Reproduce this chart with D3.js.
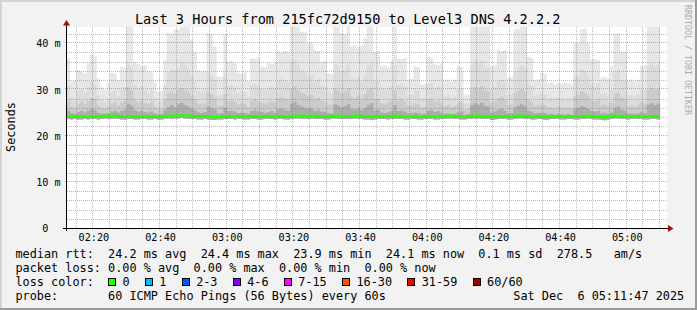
<!DOCTYPE html>
<html>
<head>
<meta charset="utf-8">
<script src="https://cdn.jsdelivr.net/npm/d3@7"></script>
<style>
  html, body { margin: 0; padding: 0; background: #f2f2f2; }
  svg { display: block; }
  text { font-family: "DejaVu Sans Mono", monospace; white-space: pre; }
</style>
</head>
<body>
<div id="chart"></div>
<script>
// one sample per minute, first sample 02:12 (ms round trip)
const rttMax = [
  36.8, 31.7, 31.9, 34.2, 34.0, 33.5, 35.7, 37.5, 37.3, 32.4,
  30.5, 29.9, 31.4, 33.6, 33.4, 32.0, 34.9, 34.7, 44.5, 44.5,
  36.0, 35.5, 35.0, 35.2, 33.9, 33.7, 31.4, 29.5, 29.7, 36.4,
  42.2, 42.0, 42.9, 43.0, 44.5, 44.5, 44.5, 40.7, 38.0, 34.2,
  33.9, 34.1, 42.2, 42.0, 39.3, 32.8, 32.6, 42.0, 36.0, 36.2,
  35.7, 33.6, 33.4, 33.7, 31.8, 36.8, 36.6, 36.9, 35.0, 34.8,
  35.7, 35.5, 35.8, 38.2, 38.0, 38.3, 38.1, 44.5, 44.5, 44.5,
  42.5, 42.3, 40.0, 40.2, 38.5, 38.3, 36.0, 36.2, 33.5, 33.3,
  44.5, 44.5, 42.2, 42.0, 44.5, 39.3, 39.5, 39.1, 39.4, 41.0,
  44.5, 44.5, 38.1, 38.3, 35.0, 35.2, 34.8, 36.0, 44.5, 36.7,
  36.5, 36.8, 32.1, 32.3, 35.0, 34.8, 31.0, 31.2, 37.0, 36.8,
  35.5, 35.3, 35.6, 32.0, 32.2, 31.8, 32.1, 35.0, 34.8, 28.7,
  28.9, 44.5, 44.5, 44.5, 44.5, 44.5, 44.5, 35.0, 35.2, 38.5,
  38.3, 38.6, 32.5, 32.7, 43.0, 43.2, 44.5, 44.5, 37.0, 36.8,
  32.0, 32.2, 33.6, 33.4, 31.3, 31.5, 31.1, 31.4, 31.2, 31.5,
  31.3, 31.1, 40.0, 40.2, 43.0, 43.2, 40.0, 36.5, 36.7, 36.3,
  32.5, 32.7, 32.3, 35.0, 42.0, 42.2, 38.0, 38.2, 32.0, 32.2,
  31.8, 32.1, 35.0, 35.2, 44.5, 44.5, 44.5, 44.5
];
const rttP90 = [
  31.0, 28.4, 28.0, 29.6, 30.1, 29.2, 30.5, 31.6, 31.0, 28.7,
  27.8, 27.2, 28.1, 29.4, 29.8, 28.5, 29.9, 30.4, 35.6, 34.8,
  30.9, 30.2, 30.6, 29.8, 29.3, 29.9, 28.1, 27.2, 27.5, 30.8,
  33.5, 34.2, 33.9, 34.6, 35.8, 35.2, 34.5, 33.1, 31.6, 29.7,
  29.5, 29.9, 33.8, 33.2, 32.1, 28.7, 28.9, 33.6, 30.6, 30.9,
  30.4, 29.2, 29.6, 29.4, 28.3, 30.9, 31.2, 30.7, 30.1, 29.8,
  30.3, 30.6, 30.2, 31.9, 32.3, 31.7, 31.5, 35.9, 36.4, 35.2,
  34.1, 33.7, 32.6, 33.0, 31.8, 32.2, 30.9, 30.5, 29.4, 29.1,
  35.4, 35.0, 33.8, 34.3, 35.6, 32.4, 32.0, 32.6, 31.9, 33.1,
  35.3, 35.8, 31.7, 31.9, 30.1, 29.8, 30.3, 30.7, 35.1, 30.9,
  31.2, 30.6, 28.6, 28.9, 30.0, 29.7, 28.0, 28.2, 31.0, 31.4,
  30.2, 30.6, 30.0, 28.5, 28.9, 28.2, 28.6, 29.9, 30.3, 26.9,
  27.1, 35.2, 35.9, 35.4, 36.1, 35.0, 34.6, 30.1, 30.4, 31.8,
  32.1, 31.5, 28.8, 29.1, 33.9, 34.6, 35.3, 34.8, 31.2, 30.7,
  28.6, 28.9, 29.3, 29.0, 28.0, 28.3, 27.9, 28.4, 28.1, 27.8,
  28.2, 27.9, 32.6, 33.1, 34.4, 34.0, 32.9, 31.1, 30.8, 31.3,
  28.9, 29.2, 28.6, 30.0, 33.8, 34.1, 32.2, 31.7, 28.5, 28.8,
  28.4, 28.9, 30.2, 29.8, 35.1, 35.6, 34.9, 35.4
];
const rttP75 = [
  27.6, 26.4, 26.1, 26.9, 27.3, 26.8, 27.5, 28.2, 27.9, 26.5,
  26.0, 25.8, 26.3, 26.9, 27.2, 26.6, 27.1, 27.6, 30.4, 29.8,
  27.8, 27.2, 27.6, 27.1, 26.9, 27.3, 26.2, 25.7, 25.9, 27.9,
  29.2, 29.6, 29.1, 29.9, 30.3, 29.8, 29.4, 28.6, 27.9, 26.9,
  26.8, 27.1, 29.3, 28.9, 28.2, 26.4, 26.6, 29.0, 27.5, 27.7,
  27.3, 26.8, 27.0, 26.9, 26.2, 27.6, 27.9, 27.4, 27.1, 26.9,
  27.2, 27.5, 27.1, 28.1, 28.4, 27.9, 27.8, 30.2, 30.8, 29.9,
  29.4, 29.0, 28.5, 28.8, 27.9, 28.3, 27.6, 27.3, 26.8, 26.6,
  30.1, 29.7, 29.1, 29.5, 30.2, 28.4, 28.1, 28.6, 28.0, 28.9,
  30.0, 30.4, 27.9, 28.1, 27.0, 26.8, 27.2, 27.5, 29.8, 27.6,
  27.9, 27.4, 26.5, 26.7, 27.0, 26.8, 26.0, 26.2, 27.7, 28.0,
  27.2, 27.5, 27.0, 26.3, 26.6, 26.1, 26.4, 27.0, 27.3, 25.6,
  25.8, 29.9, 30.5, 30.1, 30.7, 29.8, 29.5, 27.1, 27.4, 28.2,
  28.5, 27.9, 26.6, 26.8, 29.2, 29.7, 30.1, 29.6, 27.8, 27.4,
  26.4, 26.6, 26.9, 26.7, 26.0, 26.2, 25.9, 26.3, 26.1, 25.9,
  26.2, 25.9, 28.5, 28.9, 29.6, 29.3, 28.7, 27.6, 27.4, 27.8,
  26.6, 26.9, 26.4, 27.1, 29.1, 29.4, 28.2, 27.9, 26.3, 26.5,
  26.2, 26.6, 27.2, 26.9, 30.0, 30.4, 29.8, 30.2
];
const rttP60 = [
  25.4, 24.9, 24.8, 25.1, 25.3, 25.0, 25.4, 25.8, 25.6, 24.9,
  24.8, 24.7, 24.9, 25.2, 25.4, 25.0, 25.3, 25.6, 26.9, 26.5,
  25.5, 25.2, 25.4, 25.1, 25.0, 25.2, 24.8, 24.6, 24.7, 25.6,
  26.2, 26.6, 26.1, 26.8, 27.1, 26.7, 26.3, 25.9, 25.5, 25.0,
  24.9, 25.1, 26.3, 26.0, 25.7, 24.8, 24.9, 26.1, 25.3, 25.4,
  25.2, 24.9, 25.0, 24.9, 24.7, 25.3, 25.6, 25.2, 25.1, 24.9,
  25.1, 25.3, 25.0, 25.7, 25.9, 25.5, 25.4, 26.9, 27.3, 26.6,
  26.3, 26.0, 25.8, 25.9, 25.4, 25.6, 25.2, 25.1, 24.9, 24.8,
  26.8, 26.5, 26.1, 26.4, 26.9, 25.8, 25.6, 25.9, 25.5, 26.0,
  26.7, 27.0, 25.5, 25.6, 25.0, 24.9, 25.1, 25.3, 26.6, 25.3,
  25.5, 25.2, 24.8, 24.9, 25.0, 24.9, 24.6, 24.7, 25.4, 25.6,
  25.1, 25.3, 25.0, 24.7, 24.8, 24.6, 24.8, 25.0, 25.2, 24.5,
  24.6, 26.6, 27.0, 26.7, 27.1, 26.5, 26.3, 25.0, 25.2, 25.6,
  25.8, 25.4, 24.8, 24.9, 26.2, 26.5, 26.8, 26.4, 25.4, 25.2,
  24.8, 24.9, 25.0, 24.9, 24.6, 24.7, 24.5, 24.7, 24.6, 24.5,
  24.7, 24.5, 25.8, 26.0, 26.4, 26.2, 25.8, 25.3, 25.2, 25.4,
  24.8, 24.9, 24.7, 25.0, 26.1, 26.3, 25.6, 25.4, 24.7, 24.8,
  24.6, 24.8, 25.1, 24.9, 26.7, 27.0, 26.6, 26.9
];
const rttMedian = [
  24.2, 24.2, 24.2, 24.1, 24.2, 24.2, 24.1, 24.2, 24.2, 24.1,
  24.2, 24.3, 24.3, 24.3, 24.3, 24.2, 24.2, 24.1, 24.2, 24.2,
  24.1, 24.1, 24.2, 24.2, 24.1, 24.1, 24.2, 24.1, 24.1, 24.2,
  24.3, 24.3, 24.3, 24.4, 24.4, 24.3, 24.3, 24.2, 24.2, 24.2,
  24.1, 24.2, 24.2, 24.0, 23.9, 24.1, 24.1, 24.2, 24.2, 24.2,
  24.1, 24.2, 24.2, 24.1, 24.1, 24.2, 24.2, 24.1, 24.1, 24.2,
  24.2, 24.2, 24.1, 24.2, 24.2, 24.1, 24.1, 24.2, 24.3, 24.3,
  24.3, 24.2, 24.2, 24.3, 24.3, 24.2, 24.2, 24.1, 24.1, 24.2,
  24.3, 24.3, 24.2, 24.2, 24.2, 24.2, 24.3, 24.3, 24.2, 24.1,
  24.1, 24.0, 24.1, 24.2, 24.2, 24.2, 24.1, 24.2, 24.3, 24.2,
  24.2, 24.1, 24.1, 24.2, 24.2, 24.1, 24.1, 24.2, 24.2, 24.2,
  24.1, 24.1, 24.2, 24.2, 24.3, 24.3, 24.2, 24.2, 24.1, 24.1,
  24.2, 24.2, 24.3, 24.3, 24.2, 24.2, 24.2, 24.0, 24.1, 24.2,
  24.2, 24.2, 24.1, 24.1, 24.2, 24.3, 24.3, 24.2, 24.2, 24.1,
  24.1, 24.2, 24.2, 24.0, 24.1, 24.2, 24.2, 24.2, 24.1, 24.1,
  24.2, 24.2, 24.1, 24.1, 24.2, 24.2, 24.3, 24.2, 24.1, 24.1,
  24.0, 23.9, 24.1, 24.2, 24.3, 24.3, 24.2, 24.2, 24.1, 24.2,
  24.2, 24.2, 24.2, 24.1, 24.1, 24.2, 24.2, 24.1
];
const rttMin = [
  23.6, 23.5, 23.6, 23.5, 23.5, 23.6, 23.5, 23.6, 23.6, 23.5,
  23.6, 23.7, 23.6, 23.6, 23.7, 23.6, 23.5, 23.5, 23.6, 23.6,
  23.5, 23.5, 23.6, 23.6, 23.5, 23.5, 23.6, 23.5, 23.5, 23.6,
  23.7, 23.6, 23.7, 23.7, 23.8, 23.7, 23.6, 23.6, 23.6, 23.5,
  23.5, 23.6, 23.5, 23.4, 23.4, 23.5, 23.5, 23.6, 23.6, 23.6,
  23.5, 23.6, 23.6, 23.5, 23.5, 23.6, 23.6, 23.5, 23.5, 23.6,
  23.6, 23.6, 23.5, 23.6, 23.6, 23.5, 23.5, 23.6, 23.7, 23.7,
  23.6, 23.6, 23.6, 23.7, 23.6, 23.6, 23.6, 23.5, 23.5, 23.6,
  23.7, 23.6, 23.6, 23.6, 23.6, 23.6, 23.7, 23.6, 23.6, 23.5,
  23.5, 23.4, 23.5, 23.6, 23.6, 23.6, 23.5, 23.6, 23.6, 23.6,
  23.6, 23.5, 23.5, 23.6, 23.6, 23.5, 23.5, 23.6, 23.6, 23.6,
  23.5, 23.5, 23.6, 23.6, 23.7, 23.7, 23.6, 23.6, 23.5, 23.5,
  23.6, 23.6, 23.7, 23.7, 23.6, 23.6, 23.6, 23.4, 23.5, 23.6,
  23.6, 23.6, 23.5, 23.5, 23.6, 23.7, 23.7, 23.6, 23.6, 23.5,
  23.5, 23.6, 23.6, 23.4, 23.5, 23.6, 23.6, 23.6, 23.5, 23.5,
  23.6, 23.6, 23.5, 23.5, 23.6, 23.6, 23.7, 23.6, 23.5, 23.5,
  23.4, 23.3, 23.5, 23.6, 23.7, 23.7, 23.6, 23.6, 23.5, 23.6,
  23.6, 23.6, 23.6, 23.5, 23.5, 23.6, 23.6, 23.5
];

const yTicks = [0, 10, 20, 30, 40];
const lossLabels = ["0", "1", "2-3", "4-6", "7-15", "16-30", "31-59", "60/60"];
const lossColors = ["#26ff00", "#00b8ff", "#0059ff", "#7e00ff", "#ff00ff", "#ff5500", "#ff0000", "#a00000"];
const titleText = "Last 3 Hours from 215fc72d9150 to Level3 DNS 4.2.2.2";
const legendLines = [
  "median rtt:  24.2 ms avg  24.4 ms max  23.9 ms min  24.1 ms now  0.1 ms sd  278.5   am/s",
  "packet loss: 0.00 % avg  0.00 % max  0.00 % min  0.00 % now",
  "loss color:",
  "probe:       60 ICMP Echo Pings (56 Bytes) every 60s"
];
const stampText = "Sat Dec  6 05:11:47 2025";

const width = 697;
const height = 310;
const plot = { left: 67, top: 27, right: 667, bottom: 228 };
const minute = 60 * 1000;
const firstSample = new Date(2025, 11, 6, 2, 12, 0);
const viewStart = new Date(2025, 11, 6, 2, 12, 5);
const viewEnd = new Date(viewStart.getTime() + 180 * minute);
const charW = 7.12;

const svg = d3
  .select("#chart")
  .append("svg")
  .attr("width", width)
  .attr("height", height);

// background + 3d frame
svg.append("rect").attr("width", width).attr("height", height).attr("fill", "#f2f2f2");
svg.append("rect").attr("x", 0).attr("y", 0).attr("width", width).attr("height", 2).attr("fill", "#d4d4d4");
svg.append("rect").attr("x", 0).attr("y", 0).attr("width", 2).attr("height", height).attr("fill", "#d4d4d4");
svg.append("rect").attr("x", 0).attr("y", height - 2).attr("width", width).attr("height", 2).attr("fill", "#9a9a9a");
svg.append("rect").attr("x", width - 2).attr("y", 0).attr("width", 2).attr("height", height).attr("fill", "#9a9a9a");

const x = d3.scaleTime().domain([viewStart, viewEnd]).range([plot.left, plot.right]);
const y = d3.scaleLinear().domain([0, 43.5]).range([plot.bottom, plot.top]);

svg
  .append("rect")
  .attr("x", plot.left)
  .attr("y", plot.top)
  .attr("width", plot.right - plot.left)
  .attr("height", plot.bottom - plot.top)
  .attr("fill", "#ffffff");

svg
  .append("clipPath")
  .attr("id", "plot-clip")
  .append("rect")
  .attr("x", plot.left)
  .attr("y", plot.top)
  .attr("width", plot.right - plot.left)
  .attr("height", plot.bottom - plot.top);

const sampleTime = (i) => new Date(firstSample.getTime() + i * minute);

// step series, last sample repeated so the final minute gets its width
const stepData = (values) =>
  values.map((v, i) => ({ t: sampleTime(i), v, lo: rttMin[i] }))
    .concat([{ t: sampleTime(values.length), v: values[values.length - 1], lo: rttMin[rttMin.length - 1] }]);

const smoke = svg.append("g").attr("clip-path", "url(#plot-clip)");

const bands = [
  { values: rttMax, color: "#e7e7e7" },
  { values: rttP90, color: "#dcdcdc" },
  { values: rttP75, color: "#cbcbcb" },
  { values: rttP60, color: "#acacac" }
];

const area = d3
  .area()
  .curve(d3.curveStepAfter)
  .x((d) => x(d.t))
  .y0((d) => y(d.lo))
  .y1((d) => y(d.v));

bands.forEach((band) => {
  smoke
    .append("path")
    .datum(stepData(band.values))
    .attr("fill", band.color)
    .attr("d", area);
});

// grid
const grid = svg.append("g").attr("shape-rendering", "crispEdges");
const minorTimes = d3.timeMinute.every(5).range(viewStart, viewEnd)
  .filter((t) => t.getMinutes() % 20 !== 0);
const majorTimes = d3.timeMinute.every(20).range(viewStart, viewEnd);
const minorVals = d3.range(2, 43.5, 2).filter((v) => v % 10 !== 0);
const majorVals = yTicks.filter((v) => v > 0);

grid.selectAll(".vminor").data(minorTimes).join("line")
  .attr("x1", (d) => Math.round(x(d)) - 0.5).attr("x2", (d) => Math.round(x(d)) - 0.5)
  .attr("y1", plot.top).attr("y2", plot.bottom)
  .attr("stroke", "rgba(130,130,130,0.55)").attr("stroke-dasharray", "1,1");
grid.selectAll(".hminor").data(minorVals).join("line")
  .attr("x1", plot.left).attr("x2", plot.right)
  .attr("y1", (d) => Math.round(y(d)) + 0.5).attr("y2", (d) => Math.round(y(d)) + 0.5)
  .attr("stroke", "rgba(130,130,130,0.55)").attr("stroke-dasharray", "1,1");
grid.selectAll(".vmajor").data(majorTimes).join("line")
  .attr("x1", (d) => Math.round(x(d)) - 0.5).attr("x2", (d) => Math.round(x(d)) - 0.5)
  .attr("y1", plot.top).attr("y2", plot.bottom + 2)
  .attr("stroke", "rgba(235,60,60,0.5)").attr("stroke-dasharray", "1,1");
grid.selectAll(".hmajor").data(majorVals).join("line")
  .attr("x1", plot.left - 2).attr("x2", plot.right + 2)
  .attr("y1", (d) => Math.round(y(d)) - 0.5).attr("y2", (d) => Math.round(y(d)) - 0.5)
  .attr("stroke", "rgba(235,60,60,0.5)").attr("stroke-dasharray", "1,1");

// median line
const medLine = d3
  .line()
  .curve(d3.curveStepAfter)
  .x((d) => x(d.t))
  .y((d) => y(d.v));

svg
  .append("g")
  .attr("clip-path", "url(#plot-clip)")
  .append("path")
  .datum(stepData(rttMedian))
  .attr("fill", "none")
  .attr("stroke", lossColors[0])
  .attr("stroke-width", 2.2)
  .attr("d", medLine);

// axes lines and arrows
const axes = svg.append("g").attr("shape-rendering", "crispEdges");
axes.append("line")
  .attr("x1", plot.left - 4).attr("x2", plot.right + 4)
  .attr("y1", plot.bottom + 0.5).attr("y2", plot.bottom + 0.5)
  .attr("stroke", "#000");
axes.append("line")
  .attr("x1", plot.left - 0.5).attr("x2", plot.left - 0.5)
  .attr("y1", plot.bottom + 3).attr("y2", plot.top - 4)
  .attr("stroke", "#000");
svg.append("path")
  .attr("d", `M${plot.left - 0.5},${plot.top - 7} L${plot.left - 4},${plot.top - 1.5} L${plot.left + 3},${plot.top - 1.5} Z`)
  .attr("fill", "#a01010");
svg.append("path")
  .attr("d", `M${plot.right + 6.5},${plot.bottom + 0.5} L${plot.right + 1},${plot.bottom - 3} L${plot.right + 1},${plot.bottom + 4} Z`)
  .attr("fill", "#a01010");

const xAxis = d3
  .axisBottom(x)
  .ticks(d3.timeMinute.every(20))
  .tickFormat(d3.timeFormat("%H:%M"))
  .tickSize(0);

const gx = svg.append("g").attr("transform", `translate(0,${plot.bottom})`).call(xAxis);
gx.select(".domain").remove();
gx.attr("font-family", "DejaVu Sans Mono").attr("font-size", 10.2);
gx.selectAll("text").attr("y", 12.6).attr("dy", null).attr("fill", "#000");

const yAxis = d3
  .axisLeft(y)
  .tickValues(yTicks)
  .tickFormat((d) => (d === 0 ? "0" : d + " m"))
  .tickSize(0)
  .tickPadding(6.3);

const gy = svg.append("g").attr("transform", `translate(${plot.left},0)`).call(yAxis);
gy.select(".domain").remove();
gy.attr("font-family", "DejaVu Sans Mono").attr("font-size", 10.2);
gy.selectAll("text").attr("fill", "#000").attr("dy", "0.36em");
gy.selectAll(".tick").filter((d) => d === 0).select("text").attr("dx", -12.3);

// texts
svg.append("text")
  .attr("x", 347.7).attr("y", 24)
  .attr("text-anchor", "middle")
  .attr("font-size", 13.6)
  .text(titleText);

svg.append("text")
  .attr("transform", "translate(15.3,127) rotate(-90)")
  .attr("text-anchor", "middle")
  .attr("font-size", 11.83)
  .text("Seconds");

svg.append("text")
  .attr("transform", "translate(685,5) rotate(90)")
  .attr("font-size", 8.3)
  .attr("fill", "#ababab")
  .text("RRDTOOL / TOBI OETIKER");

const legend = svg.append("g").attr("font-size", 11.83);
const rowY = [257.7, 271.7, 285.7, 299.7];

legendLines.forEach((line, i) => {
  legend.append("text").attr("x", 15.5).attr("y", rowY[i]).text(line);
});

legend.append("text").attr("x", 513.3).attr("y", rowY[3]).text(stampText);

let lx = 108;
lossLabels.forEach((label, i) => {
  legend.append("rect")
    .attr("x", lx + 0.5).attr("y", rowY[2] - 7.2)
    .attr("width", 7).attr("height", 7)
    .attr("fill", lossColors[i])
    .attr("stroke", "#000")
    .attr("shape-rendering", "crispEdges");
  legend.append("text").attr("x", lx + 14.5).attr("y", rowY[2]).text(label);
  lx += 14.5 + label.length * charW + 15.2;
});
</script>
</body>
</html>
